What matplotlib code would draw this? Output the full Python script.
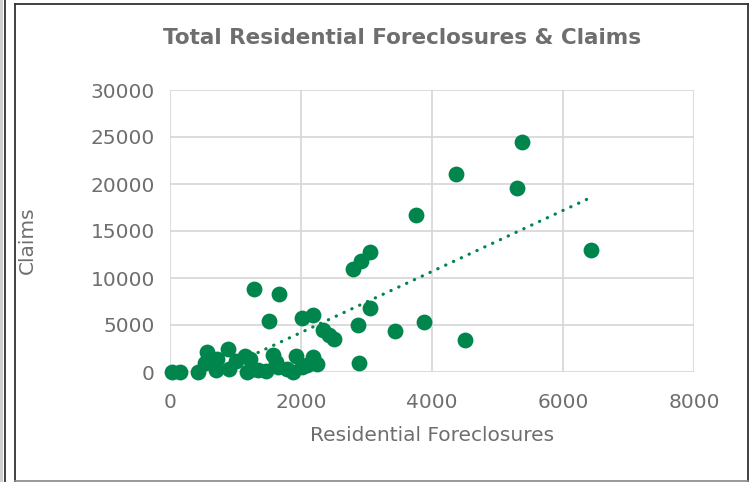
import numpy as np
import matplotlib
matplotlib.use("Agg")
import matplotlib.pyplot as plt
from matplotlib.lines import Line2D
from matplotlib.patches import Rectangle

plt.rcParams['font.family'] = ['DejaVu Sans']

# residential foreclosures (x) and claims (y)
foreclosures = [5370, 4370, 5300, 3750, 3050, 2920, 2790, 6420, 1280, 1660,
                3060, 2190, 2020, 1510, 2870, 3880, 3430, 4510, 2880, 2340,
                2420, 2510,
                30, 150, 430, 560, 540, 700, 720, 880, 900, 1000,
                1140, 1170, 1220, 1260, 1460, 1570, 1620, 1650, 1780, 1880,
                1920, 2010, 2090, 2180, 2250, 1350]
claims = [24500, 21100, 19600, 16700, 12750, 11850, 10950, 13000, 8850, 8350,
          6850, 6100, 5750, 5400, 5050, 5350, 4350, 3400, 950, 4450,
          3900, 3550,
          0, 0, 50, 2100, 1000, 250, 1400, 2400, 300, 1200,
          1750, 50, 1350, 350, 150, 1800, 1050, 500, 300, 50,
          1700, 550, 700, 1600, 800, 200]

x_ticks = [0, 2000, 4000, 6000, 8000]
y_ticks = [0, 5000, 10000, 15000, 20000, 25000, 30000]

green = '#00854d'
grey_text = '#6e6e6e'

fig = plt.figure(figsize=(7.49, 4.82), dpi=100)
ax = fig.add_axes([170/749, 1 - 372/482, 524/749, 282/482])

x = np.array(foreclosures, dtype=float)
y = np.array(claims, dtype=float)

ax.scatter(x, y, s=130, color=green, linewidths=0, zorder=3, clip_on=False)

# linear trendline
k, b = np.polyfit(x, y, 1)
xs = np.array([x.min(), x.max()])
ax.plot(xs, k * xs + b, color=green, linewidth=2.3,
        linestyle=(0, (0.1, 2.6)), dash_capstyle='round', zorder=4)

ax.set_xlim(0, 8000)
ax.set_ylim(0, 30000)
ax.set_xticks(x_ticks)
ax.set_yticks(y_ticks)
ax.grid(True, color='#d9d9d9', linewidth=1.3, zorder=0)
ax.set_axisbelow(True)
for s in ax.spines.values():
    s.set_visible(False)
ax.tick_params(length=0, labelsize=14.5, colors=grey_text)
ax.tick_params(axis='x', pad=15)
ax.tick_params(axis='y', pad=11)

ax.set_xlabel('Residential Foreclosures', fontsize=14.5, color=grey_text)
ax.xaxis.set_label_coords(0.5, -0.19)
ax.set_ylabel('Claims', fontsize=14.5, color=grey_text)
ax.yaxis.set_label_coords(-0.254, 0.468)
fig.text(402/749, 1 - 38/482, 'Total Residential Foreclosures & Claims',
         ha='center', va='center', fontsize=15.5, fontweight='bold', color=grey_text)

# frame around the chart
fig.add_artist(Rectangle((0, 0), 3/749, 1, transform=fig.transFigure,
                         facecolor='#d0d0d0', edgecolor='none'))
fig.add_artist(Line2D([4.5/749, 4.5/749], [0, 1], transform=fig.transFigure,
                      color='#222222', linewidth=1.2))
fig.add_artist(Line2D([15.5/749, 15.5/749], [0, 1 - 3.5/482], transform=fig.transFigure,
                      color='#333333', linewidth=1.3))
fig.add_artist(Line2D([15.5/749, 747.5/749], [1 - 3.5/482, 1 - 3.5/482],
                      transform=fig.transFigure, color='#333333', linewidth=1.3))
fig.add_artist(Line2D([747.5/749, 747.5/749], [0, 1 - 3.5/482], transform=fig.transFigure,
                      color='#333333', linewidth=1.3))
fig.add_artist(Line2D([15.5/749, 747.5/749], [0.8/482, 0.8/482],
                      transform=fig.transFigure, color='#888888', linewidth=1.2))

fig.savefig('out.png', dpi=100)
